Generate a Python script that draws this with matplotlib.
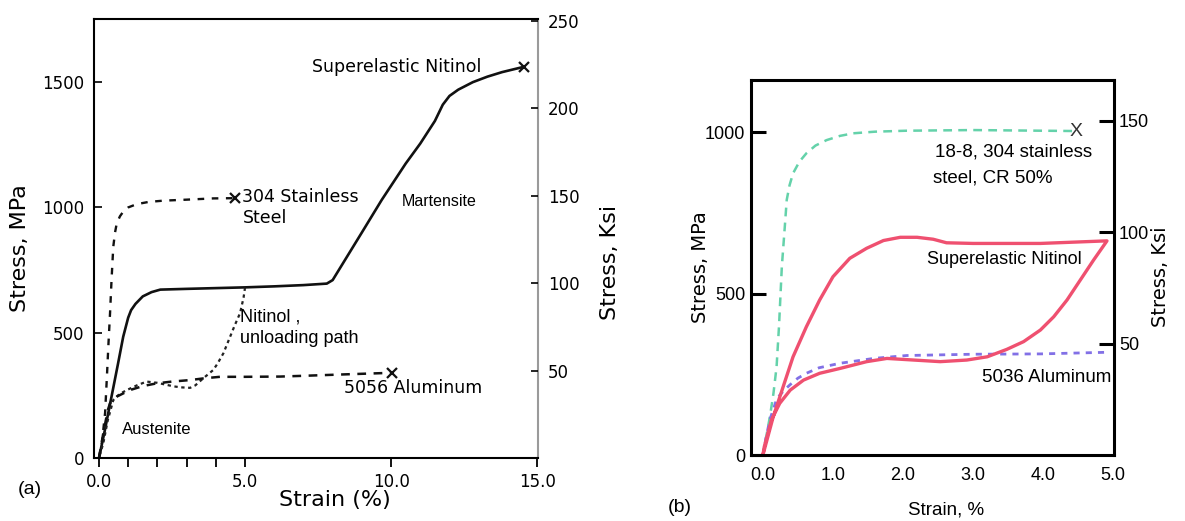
import matplotlib
matplotlib.use('Agg')
import matplotlib.pyplot as plt

W, H = 1185, 521
NARROW = ['Liberation Sans Narrow', 'Liberation Sans', 'DejaVu Sans']
ARIAL = ['Liberation Sans', 'DejaVu Sans']

# ---------------- panel (a): strain %, stress MPa ----------------
se_strain = [0, 0.2, 0.43, 0.65, 0.83, 1.0, 1.1, 1.25, 1.5, 1.8, 2.1, 3.0, 4.0,
             5.0, 6.0, 7.0, 7.8, 8.0, 9.0, 9.68, 10.5, 11.0, 11.5, 11.77, 12.0,
             12.3, 12.8, 13.3, 13.8, 14.54]
se_stress = [0, 110, 245, 375, 484, 560, 590, 615, 645, 662, 672, 675, 678,
             681, 685, 690, 696, 710, 900, 1030, 1175, 1255, 1345, 1410, 1445,
             1470, 1500, 1522, 1540, 1561]

unl_strain = [5.0, 4.95, 4.83, 4.65, 4.49, 4.26, 4.05, 3.91, 3.57, 3.3, 3.12,
              2.8, 2.55, 2.0, 1.63, 1.3, 0.95, 0.7, 0.49, 0.3, 0.15, 0]
unl_stress = [680, 640, 578, 530, 484, 418, 375, 351, 318, 290, 280,
              282, 286, 300, 305, 290, 271, 255, 231, 150, 60, 0]

ss_strain = [0, 0.1, 0.21, 0.27, 0.32, 0.38, 0.43, 0.49, 0.55, 0.61, 0.72,
             0.83, 1.0, 1.29, 1.7, 2.2, 3.0, 3.91, 4.66]
ss_stress = [0, 60, 180, 320, 444, 580, 710, 843, 900, 937, 965,
             983, 1000, 1013, 1022, 1027, 1031, 1036, 1037]

al_strain = [0, 0.15, 0.3, 0.38, 0.61, 1.06, 1.5, 1.98, 2.5, 3.12, 3.6, 4.14,
             5.0, 6.2, 7.0, 8.48, 10.02]
al_stress = [0, 100, 190, 219, 245, 271, 287, 298, 305, 311, 318, 324,
             324, 325, 328, 334, 340]

a_xticks = [0, 5, 10, 15]
a_xticklabels = ['0.0', '5.0', '10.0', '15.0']
a_xminor = [1, 2, 3, 4]
a_yticks = [0, 500, 1000, 1500]
a_ksi_ticks = [50, 100, 150, 200, 250]

# ---------------- panel (b) ----------------
b_ss_strain = [0, 0.05, 0.1, 0.15, 0.195, 0.23, 0.27, 0.31, 0.34, 0.38, 0.43,
               0.52, 0.62, 0.75, 0.91, 1.1, 1.29, 1.6, 2.05, 3.0, 4.45]
b_ss_stress = [0, 60, 119, 190, 273, 400, 583, 700, 790, 835, 872,
               908, 934, 958, 975, 988, 996, 1001, 1004, 1006, 1003]

b_ni_strain = [0, 0.148, 0.29, 0.43, 0.62, 0.81, 1.0, 1.24, 1.48, 1.72, 1.96,
               2.2, 2.43, 2.62, 3.0, 3.96, 4.91,
               4.72, 4.53, 4.34, 4.15, 3.96, 3.72, 3.48, 3.2, 2.91, 2.53, 2.15,
               1.77, 1.48, 1.1, 0.81, 0.58, 0.39, 0.24, 0.12, 0.02, 0]
b_ni_stress = [0, 119, 212, 304, 397, 480, 552, 609, 640, 664, 674,
               674, 668, 657, 655, 655, 663,
               604, 542, 480, 428, 387, 351, 327, 304, 294, 289, 294,
               299, 289, 268, 253, 232, 201, 160, 108, 26, 0]

b_al_strain = [0, 0.05, 0.1, 0.2, 0.3, 0.39, 0.5, 0.62, 0.8, 1.1, 1.58, 2.05,
               3.0, 3.96, 4.91]
b_al_stress = [0, 60, 110, 175, 200, 218, 238, 253, 270, 284, 299, 308,
               312, 313, 318]

b_xticks = [0, 1, 2, 3, 4, 5]
b_xticklabels = ['0.0', '1.0', '2.0', '3.0', '4.0', '5.0']
b_yticks = [0, 500, 1000]
b_ksi_ticks = [50, 100, 150]
MPA_PER_KSI = 6.895

fig = plt.figure(figsize=(W / 100, H / 100), dpi=100)


def frac(x, y):
    return x / W, 1 - y / H


# ---- (a) ----
ax = fig.add_axes([94 / W, 1 - 458 / H, 444 / W, 439 / H])
ax.plot(se_strain, se_stress, color='#111', lw=1.9, solid_joinstyle='round')
ax.plot(unl_strain, unl_stress, color='#222', lw=1.6, dashes=(1.5, 1.6))
ax.plot(ss_strain, ss_stress, color='#111', lw=1.7, dashes=(2.8, 3.2))
ax.plot(al_strain, al_stress, color='#111', lw=1.8, dashes=(3.5, 3.0))
for xs, ys in [(se_strain, se_stress), (ss_strain, ss_stress), (al_strain, al_stress)]:
    ax.plot(xs[-1], ys[-1], marker='x', ms=7, mew=1.6, color='#111')
ax.set_xlim(-0.17, 15.03)
ax.set_ylim(0, 1752)
ax.set_xticks(a_xticks)
ax.set_xticklabels(a_xticklabels)
ax.set_xticks(a_xminor, minor=True)
ax.set_yticks(a_yticks)
ax.tick_params(axis='x', which='both', direction='out', length=6.5, width=1.3,
               pad=4, labelsize=12)
ax.tick_params(axis='y', direction='in', length=5.5, width=1.2, pad=7, labelsize=12)
for s in ax.spines.values():
    s.set_linewidth(1.5)
ax.spines['right'].set_color('#9a9a9a')

axr = ax.twinx()
axr.set_ylim(0, 251)
axr.set_yticks(a_ksi_ticks)
axr.tick_params(axis='y', direction='in', length=5, width=1.2, pad=7, labelsize=12)
for s in axr.spines.values():
    s.set_visible(False)

ax.text(7.29, 1560, 'Superelastic Nitinol', fontsize=12.5, va='center', ha='left')
ax.text(4.90, 1041, '304 Stainless', fontsize=12.5, va='center', ha='left')
ax.text(4.93, 958, 'Steel', fontsize=12.5, va='center', ha='left')
ax.text(10.38, 1025, 'Martensite', fontsize=11.5, family=ARIAL, va='center', ha='left')
ax.text(4.83, 563, 'Nitinol ,', fontsize=13, family=ARIAL, va='center', ha='left')
ax.text(4.83, 475, 'unloading path', fontsize=13, family=ARIAL, va='center', ha='left')
ax.text(8.39, 279, '5056 Aluminum', fontsize=12.5, va='center', ha='left')
ax.text(0.79, 112, 'Austenite', fontsize=12, family=ARIAL, va='center', ha='left')

fig.text(*frac(20, 248), 'Stress, MPa', fontsize=16, rotation=90, ha='center', va='center')
fig.text(*frac(610, 262), 'Stress, Ksi', fontsize=16, rotation=90, ha='center', va='center')
fig.text(*frac(335, 500), 'Strain (%)', fontsize=16, ha='center', va='center')
fig.text(*frac(30, 490), '(a)', fontsize=14, family=ARIAL, ha='center', va='center')

# ---- (b) ----
bx = fig.add_axes([751 / W, 1 - 455 / H, 363 / W, 375 / H])
bx.plot(b_ss_strain, b_ss_stress, color='#64d2aa', lw=1.8, dashes=(3.5, 2.5))
bx.plot(b_al_strain, b_al_stress, color='#8270e6', lw=2.0, dashes=(2.2, 2.2))
bx.plot(b_ni_strain, b_ni_stress, color='#ef5070', lw=2.4, solid_joinstyle='round')
bx.text(4.47, 1003, 'X', fontsize=14, family=NARROW, color='#333', ha='center', va='center')
bx.set_xlim(-0.17, 5.01)
bx.set_ylim(0, 1161)
bx.set_xticks(b_xticks)
bx.set_xticklabels(b_xticklabels, family=NARROW)
bx.set_xticks(b_xticks[1:-1], minor=True)
bx.tick_params(axis='x', which='major', length=0, pad=9, labelsize=13)
bx.tick_params(axis='x', which='minor', direction='in', length=11, width=2)
bx.set_yticks(b_yticks)
bx.set_yticklabels([str(v) for v in b_yticks], family=NARROW)
bx.tick_params(axis='y', direction='in', length=11, width=2.2, pad=4, labelsize=13)
for s in bx.spines.values():
    s.set_linewidth(2.2)

bxr = bx.twinx()
bxr.set_ylim(0, 1161 / MPA_PER_KSI)
bxr.set_yticks(b_ksi_ticks)
bxr.set_yticklabels([str(v) for v in b_ksi_ticks], family=NARROW)
bxr.tick_params(axis='y', direction='in', length=11, width=2.2, pad=3.5, labelsize=13)
for s in bxr.spines.values():
    s.set_visible(False)

bx.text(2.46, 938, '18-8, 304 stainless', fontsize=13.5, family=NARROW, va='center', ha='left')
bx.text(2.43, 858, 'steel, CR 50%', fontsize=13.5, family=NARROW, va='center', ha='left')
bx.text(2.34, 604, 'Superelastic Nitinol', fontsize=13, family=NARROW, va='center', ha='left')
bx.text(3.13, 241, '5036 Aluminum', fontsize=13.5, family=NARROW, va='center', ha='left')

fig.text(*frac(700, 267), 'Stress, MPa', fontsize=14, rotation=90, ha='center', va='center')
fig.text(*frac(1161, 277), 'Stress, Ksi', fontsize=14, rotation=90, ha='center', va='center')
fig.text(*frac(946, 510), 'Strain, %', fontsize=13.5, family=NARROW, ha='center', va='center')
fig.text(*frac(680, 507), '(b)', fontsize=14, family=ARIAL, ha='center', va='center')

fig.savefig('out.png', dpi=100)
